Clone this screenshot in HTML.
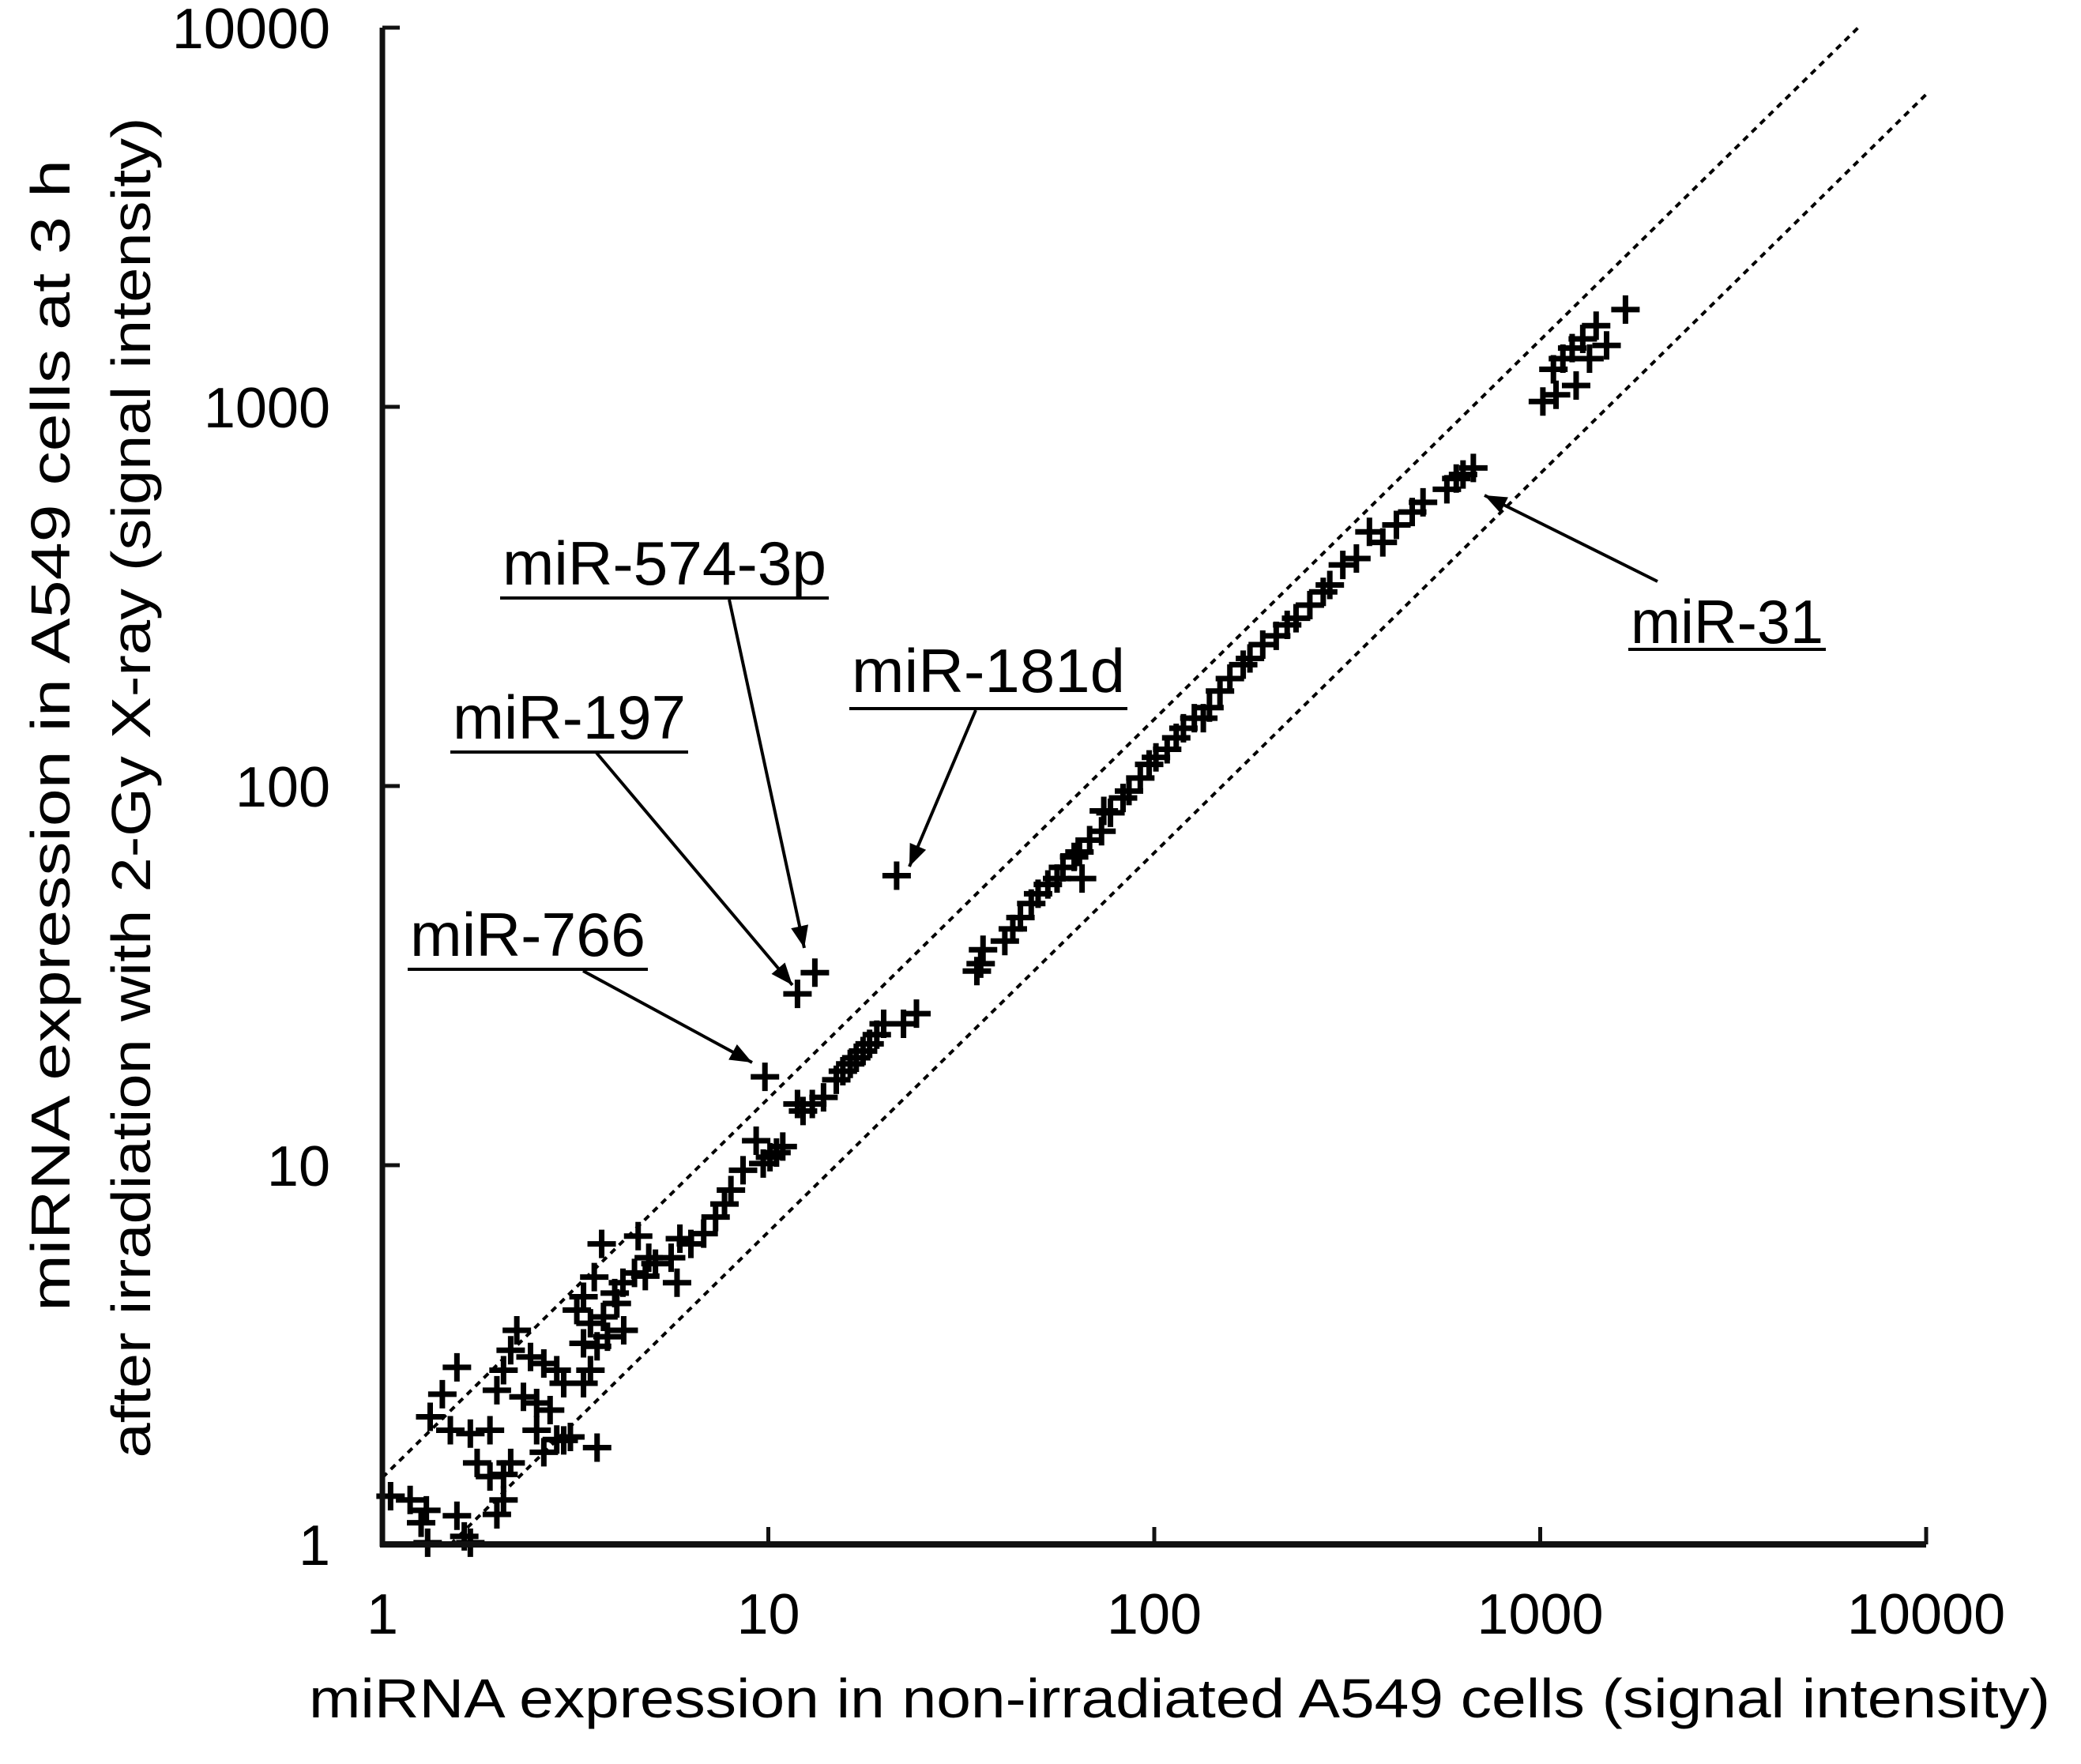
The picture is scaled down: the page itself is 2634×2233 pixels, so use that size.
<!DOCTYPE html>
<html><head><meta charset="utf-8">
<style>
html,body{margin:0;padding:0;background:#fff;}
svg{display:block;}
text{font-family:"Liberation Sans",Arial,sans-serif;fill:#000;}
</style></head>
<body>
<svg id="chart" width="2634" height="2233" viewBox="0 0 2634 2233" xmlns="http://www.w3.org/2000/svg">
<rect x="0" y="0" width="2634" height="2233" fill="#fff"/>
<g id="guides"></g>
<g id="points"></g>
<g id="axes"></g>
<g id="annos"></g>
<text x="1493" y="2174" text-anchor="middle" font-size="70" textLength="2204" lengthAdjust="spacingAndGlyphs">miRNA expression in non-irradiated A549 cells (signal intensity)</text>
<text transform="translate(88,931) rotate(-90)" text-anchor="middle" font-size="70" textLength="1458" lengthAdjust="spacingAndGlyphs">miRNA expression in A549 cells at 3 h</text>
<text transform="translate(190,997) rotate(-90)" text-anchor="middle" font-size="70" textLength="1697" lengthAdjust="spacingAndGlyphs">after irradiation with 2-Gy X-ray (signal intensity)</text>
</svg>
<script>
const xTicks = [1, 10, 100, 1000, 10000];
const yTicks = [1, 10, 100, 1000, 10000];
const xTickLabels = ["1", "10", "100", "1000", "10000"];
const yTickLabels = ["1", "10", "100", "1000", "10000"];
const foldChange = 1.5;
const xValues = [1663,1396,1289,1210,1145,1082,1016,1099,1239,1486,1342,
671,606,631,573,497,466,424,391,361,334,308,285,274,253,233,221,207,191,177,170,157,148,139,134,127,119,114,108,101,97,92,86,83,77,73,68,64,62,58,56,53,50,48,45,43,41,36,35.5,65,74,34.7,
24.2,22.4,19.9,19.1,18.3,17.6,16.9,16.3,15.6,15.0,13.9,13.0,12.3,11.9,
10.9,10.1,9.3,9.7,10.5,8.6,8.0,7.7,7.3,6.8,6.3,5.9,5.6,5.1,4.8,4.5,4.2,4.0,3.7,4.6,4.9,5.8,
3.54,3.32,3.19,3.74,4.05,4.22,3.83,3.46,3.32,2.95,2.83,2.62,2.42,2.23,2.15,2.32,2.51,2.72,3.07,2.83,3.32,3.46,3.6,2.06,1.98,
1.43,1.33,1.56,1.50,1.69,1.90,1.76,1.90,2.06,2.15,2.51,2.62,2.95,3.6,
1.05,1.18,1.30,1.26,1.56,1.98,2.06,1.69,1.31,1.63,
21.5,13.2,11.9,9.8];
const yValues = [1805,1637,1511,1429,1340,1256,1033,1076,1138,1452,1340,
690,647,663,606,560,528,488,439,468,398,383,339,325,300,277,266,249,236,217,209,192,178,161,151,151,142,134,125,119,114,105,97,93,85,76,72,67,65,61,57,55,52,49,45,42,39,37,34,57,86,32.5,
25.1,23.6,23.6,22.1,20.9,20.0,19.2,18.5,17.7,16.8,15.1,14.5,13.9,14.5,
11.2,10.5,11.6,10.1,10.8,9.7,8.6,7.9,7.3,6.6,6.2,6.4,5.7,5.5,5.1,5.2,4.9,4.6,6.2,6.5,5.7,4.9,
5.07,4.5,4.15,3.98,4.32,3.67,3.53,3.83,3.39,2.66,2.88,3.0,3.12,3.67,3.25,2.45,2.36,2.26,1.92,1.89,2.66,2.88,3.33,2.88,2.55,
2.49,2.17,2.93,2.0,1.96,2.0,1.64,1.51,1.53,1.64,2.0,1.75,1.88,1.80,
1.34,1.31,1.23,1.14,1.19,1.20,1.31,1.01,1.01,1.05,
58,32.2,28.3,17.1];
const annoNames = ["miR-574-3p","miR-197","miR-181d","miR-766","miR-31"];

const NS = "http://www.w3.org/2000/svg";
const X0 = 484, XD = 488.5, Y0 = 1955, YD = 480;
function sx(v){ return X0 + Math.log10(v) * XD; }
function sy(v){ return Y0 - Math.log10(v) * YD; }
function mk(tag, attrs, parent){
  const e = document.createElementNS(NS, tag);
  for (const k in attrs) e.setAttribute(k, attrs[k]);
  parent.appendChild(e);
  return e;
}
const axes = document.getElementById('axes');
const guides = document.getElementById('guides');
const points = document.getElementById('points');
const annos = document.getElementById('annos');

let g1 = mk('line', {x1:sx(1), y1:sy(foldChange), x2:sx(10000/foldChange), y2:sy(10000), stroke:'#000','stroke-width':4,'stroke-dasharray':'8 7'}, guides);


let g2 = mk('line', {x1:sx(foldChange), y1:sy(1), x2:sx(10000), y2:sy(10000/foldChange), stroke:'#000','stroke-width':4,'stroke-dasharray':'8 7'}, guides);



for (let i = 0; i < xValues.length; i++) {
  const px = sx(xValues[i]), py = sy(yValues[i]), h = 18;
  const p = mk('path', {d:`M${px-h},${py}H${px+h}M${px},${py-h}V${py+h}`, stroke:'#000','stroke-width':7}, points);
  
  
}

let ya = mk('line', {x1:X0, y1:sy(10000), x2:X0, y2:Y0+3, stroke:'#111','stroke-width':7}, axes);


let xa = mk('line', {x1:X0-3, y1:Y0, x2:sx(10000), y2:Y0, stroke:'#111','stroke-width':8}, axes);


xTicks.forEach((t, i) => {
  const tk = mk('line', {x1:sx(t), y1:Y0, x2:sx(t), y2:Y0-22, stroke:'#111','stroke-width':5}, axes);
  
  
  const tl = mk('text', {x:sx(t), y:2068, 'text-anchor':'middle','font-size':72}, axes);
  tl.textContent = xTickLabels[i];
  
  
});
yTicks.forEach((t, i) => {
  const tk = mk('line', {x1:X0, y1:sy(t), x2:X0+22, y2:sy(t), stroke:'#111','stroke-width':5}, axes);
  
  
  const tl = mk('text', {x:418, y:sy(t)+26, 'text-anchor':'end','font-size':72}, axes);
  tl.textContent = yTickLabels[i];
  
  
});

const annoLayout = [
  [636,1046,740,757, 923,759, 1018,1200],
  [573,868,935,952, 755,953, 1003,1247],
  [1078,1424,876,897, 1235,899, 1151,1097],
  [519,817,1210,1227, 738,1229, 952,1345],
  [2064,2308,814,822, 2098,736, 1879,627]
];
annoNames.forEach((n, i) => {
  const L = annoLayout[i];
  const t = mk('text', {x:L[0], y:L[2], 'font-size':78, textLength:L[1]-L[0], lengthAdjust:'spacingAndGlyphs'}, annos);
  t.textContent = n;
  
  
  const u = mk('line', {x1:L[0]-3, y1:L[3], x2:L[1]+3, y2:L[3], stroke:'#000','stroke-width':4}, annos);
  
  
  const ax1=L[4], ay1=L[5], ax2=L[6], ay2=L[7];
  const a = mk('line', {x1:ax1, y1:ay1, x2:ax2, y2:ay2, stroke:'#000','stroke-width':4}, annos);
  
  
  const ang = Math.atan2(ay2-ay1, ax2-ax1), len = 30, w = 0.38;
  const hx1 = ax2 - len*Math.cos(ang-w), hy1 = ay2 - len*Math.sin(ang-w);
  const hx2 = ax2 - len*Math.cos(ang+w), hy2 = ay2 - len*Math.sin(ang+w);
  const hd = mk('polygon', {points:`${ax2},${ay2} ${hx1},${hy1} ${hx2},${hy2}`, fill:'#000'}, annos);
  
  
});
</script>
</body></html>
